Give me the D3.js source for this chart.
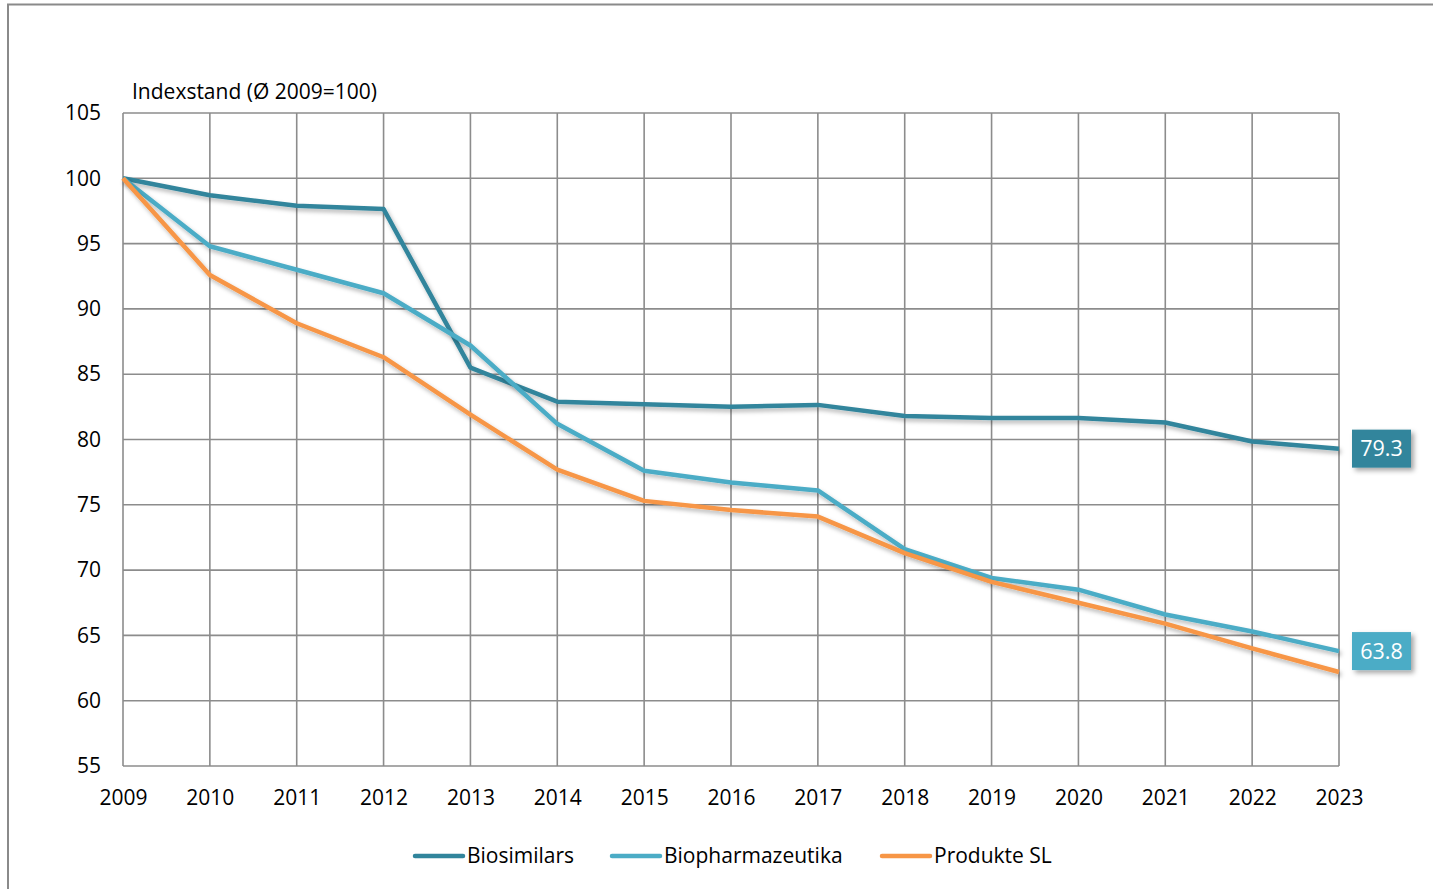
<!DOCTYPE html>
<html>
<head>
<meta charset="utf-8">
<script src="https://cdn.jsdelivr.net/npm/d3@7"></script>
<style>
  html, body { margin: 0; padding: 0; background: #fff; }
  svg { display: block; font-family: "Open Sans", Lato, sans-serif; }
</style>
</head>
<body>
<svg id="chart" width="1433" height="889"></svg>
<script>
// Price index per product group, average 2009 = 100
const years = [2009, 2010, 2011, 2012, 2013, 2014, 2015, 2016, 2017, 2018, 2019, 2020, 2021, 2022, 2023];
const biosimilars      = [100, 98.7, 97.9, 97.65, 85.5, 82.9, 82.7, 82.5, 82.65, 81.8, 81.65, 81.65, 81.3, 79.85, 79.3];
const biopharmazeutika = [100, 94.8, 93.0, 91.2, 87.2, 81.2, 77.6, 76.7, 76.1, 71.6, 69.4, 68.5, 66.6, 65.3, 63.8];
const produkteSL       = [100, 92.6, 88.9, 86.3, 81.9, 77.7, 75.3, 74.6, 74.1, 71.3, 69.1, 67.5, 65.9, 64.0, 62.2];
const seriesNames  = ["Biosimilars", "Biopharmazeutika", "Produkte SL"];
const seriesColors = ["#31859C", "#4BACC6", "#F79646"];
const yTicks = [55, 60, 65, 70, 75, 80, 85, 90, 95, 100, 105];
const yTitle = "Indexstand (Ø 2009=100)";

const seriesValues = [biosimilars, biopharmazeutika, produkteSL];
// series that carry an end-value label box
const labelled = [true, true, false];

const FONT = "'Open Sans', Lato, sans-serif";
const FS = 21;

const svg = d3.select("#chart");

const x = d3.scaleLinear().domain([2009, 2023]).range([123, 1339]);
const y = d3.scaleLinear().domain([55, 105]).range([766, 113]);

// shadows for lines and label boxes
const defs = svg.append("defs");
const f = defs.append("filter").attr("id", "lineShadow")
  .attr("x", "-5%").attr("y", "-20%").attr("width", "110%").attr("height", "140%");
f.append("feDropShadow").attr("dx", 2).attr("dy", 3).attr("stdDeviation", 2)
  .attr("flood-color", "#000").attr("flood-opacity", 0.28);
const fb = defs.append("filter").attr("id", "boxShadow")
  .attr("x", "-20%").attr("y", "-20%").attr("width", "150%").attr("height", "160%");
fb.append("feDropShadow").attr("dx", 3).attr("dy", 3).attr("stdDeviation", 2.5)
  .attr("flood-color", "#000").attr("flood-opacity", 0.35);

// outer frame
svg.append("path")
  .attr("d", "M8,889 V4.5 H1433")
  .attr("fill", "none").attr("stroke", "#8a8a8a").attr("stroke-width", 2);

// grid
const grid = svg.append("g");
grid.selectAll(".hg").data(yTicks).join("line")
  .attr("x1", x(2009)).attr("x2", x(2023))
  .attr("y1", d => y(d)).attr("y2", d => y(d))
  .attr("stroke", "#8c8c8c").attr("stroke-width", 1.6);
grid.selectAll(".vg").data(years).join("line")
  .attr("x1", d => x(d)).attr("x2", d => x(d))
  .attr("y1", y(105)).attr("y2", y(55))
  .attr("stroke", "#8c8c8c").attr("stroke-width", 1.6);

// axes
const yAxis = svg.append("g")
  .attr("transform", `translate(${x(2009)},0)`)
  .call(d3.axisLeft(y).tickValues(yTicks).tickSize(0).tickPadding(22));
yAxis.select(".domain").remove();
yAxis.selectAll("text").attr("font-size", FS).attr("fill", "#000")
  .attr("font-family", FONT);

const xAxis = svg.append("g")
  .attr("transform", `translate(0,${y(55)})`)
  .call(d3.axisBottom(x).tickValues(years).tickFormat(d3.format("d")).tickSize(0).tickPadding(24));
xAxis.select(".domain").remove();
xAxis.selectAll("text").attr("font-size", FS).attr("fill", "#000")
  .attr("font-family", FONT);

// axis title
svg.append("text")
  .attr("x", 132).attr("y", 99)
  .attr("font-size", FS).attr("fill", "#000")
  .text(yTitle);

// lines
const line = d3.line().x((d, i) => x(years[i])).y(d => y(d));
svg.append("g").selectAll("path").data(seriesValues).join("path")
  .attr("d", d => line(d))
  .attr("fill", "none")
  .attr("stroke", (d, i) => seriesColors[i])
  .attr("stroke-width", 4.5)
  .attr("stroke-linejoin", "round")
  .attr("filter", "url(#lineShadow)");

// end value labels
seriesValues.forEach((vals, i) => {
  if (!labelled[i]) return;
  const v = vals[vals.length - 1];
  const cy = y(v);
  const g = svg.append("g");
  g.append("rect")
    .attr("x", x(2023) + 13).attr("y", cy - 19)
    .attr("width", 59).attr("height", 38)
    .attr("fill", seriesColors[i])
    .attr("filter", "url(#boxShadow)");
  g.append("text")
    .attr("x", x(2023) + 13 + 29.5).attr("y", cy + 7.5)
    .attr("text-anchor", "middle")
    .attr("font-size", 21.5).attr("fill", "#fff")
    .text(d3.format(".1f")(v));
});

// legend
const legendItems = [
  { name: seriesNames[0], color: seriesColors[0], x0: 413 },
  { name: seriesNames[1], color: seriesColors[1], x0: 610 },
  { name: seriesNames[2], color: seriesColors[2], x0: 880 }
];
const lg = svg.append("g");
legendItems.forEach(it => {
  lg.append("line")
    .attr("x1", it.x0 + 2).attr("x2", it.x0 + 50)
    .attr("y1", 856).attr("y2", 856)
    .attr("stroke", it.color).attr("stroke-width", 4.5)
    .attr("stroke-linecap", "round");
  lg.append("text")
    .attr("x", it.x0 + 54).attr("y", 863)
    .attr("font-size", FS).attr("fill", "#000")
    .text(it.name);
});
</script>
</body>
</html>
